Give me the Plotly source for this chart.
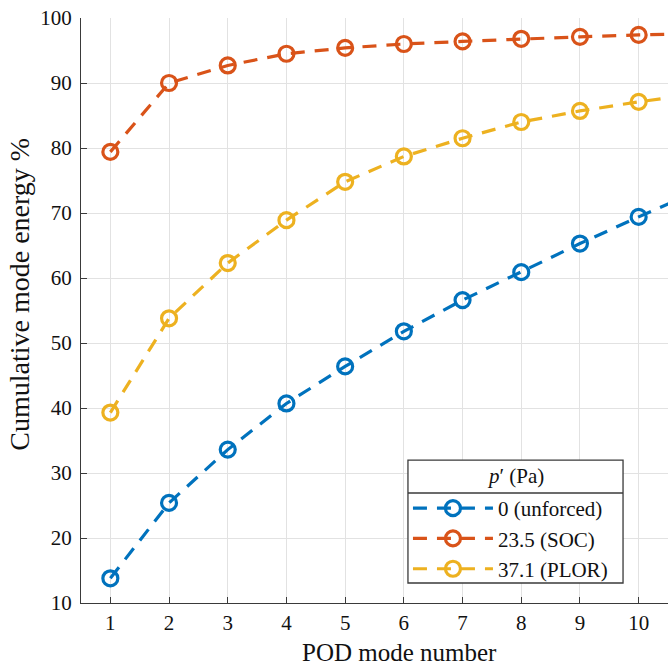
import plotly.graph_objects as go

modes = [1, 2, 3, 4, 5, 6, 7, 8, 9, 10, 11]
unforced = [13.8, 25.4, 33.6, 40.7, 46.4, 51.8, 56.6, 60.9, 65.3, 69.4, 73.4]
soc = [79.4, 90.0, 92.7, 94.5, 95.4, 96.0, 96.4, 96.8, 97.1, 97.4, 97.6]
plor = [39.3, 53.8, 62.3, 68.9, 74.8, 78.7, 81.5, 84.0, 85.7, 87.1, 88.3]
names = ["0 (unforced)", "23.5 (SOC)", "37.1 (PLOR)"]
colors = ["#0072BD", "#D95319", "#EDB120"]
series = [unforced, soc, plor]

font = "Liberation Serif"
fig = go.Figure()
for name, col, ys in zip(names, colors, series):
    fig.add_trace(go.Scatter(
        x=modes, y=ys, name=name, mode="lines+markers",
        line=dict(color=col, width=3.2, dash="14px,10px"),
        marker=dict(symbol="circle-open", size=15, line=dict(color=col, width=3.2)),
    ))

axis_common = dict(
    showline=True, linecolor="#3a3a3a", linewidth=1.3,
    ticks="inside", ticklen=6, tickcolor="#3a3a3a", tickwidth=1.3,
    showgrid=True, gridcolor="#e2e2e2", gridwidth=1.2,
    zeroline=False, mirror=False,
    tickfont=dict(family=font, size=21, color="#111"),
)
fig.update_xaxes(range=[0.5, 10.5], tickvals=list(range(1, 11)),
                 ticklabelstandoff=1, **axis_common)
fig.update_yaxes(range=[10, 100], tickvals=list(range(10, 101, 10)),
                 ticklabelstandoff=4, **axis_common)

fig.update_layout(
    width=668, height=665,
    margin=dict(l=81, r=0, t=18, b=62),
    plot_bgcolor="white", paper_bgcolor="white",
    font=dict(family=font, color="#111"),
    legend=dict(
        x=0.557, y=0.1966, xanchor="left", yanchor="top",
        bgcolor="rgba(0,0,0,0)", borderwidth=0,
        font=dict(family=font, size=21, color="#111"),
        itemwidth=80, tracegroupgap=0,
    ),
    shapes=[
        dict(type="rect", xref="paper", yref="paper", layer="above",
             x0=0.557, x1=0.9234, y0=0.0342, y1=0.2444,
             fillcolor="white", line=dict(color="#3a3a3a", width=1.3)),
        dict(type="line", xref="paper", yref="paper", layer="above",
             x0=0.557, x1=0.9234, y0=0.188, y1=0.188,
             line=dict(color="#3a3a3a", width=1.3)),
    ],
    annotations=[
        dict(text="<i>p</i>′ (Pa)", xref="paper", yref="paper",
             x=0.7402, y=0.2171, xanchor="center", yanchor="middle",
             showarrow=False, font=dict(family=font, size=21, color="#111")),
        dict(text="POD mode number", xref="paper", yref="paper",
             x=0.5434, y=-0.0838, xanchor="center", yanchor="middle",
             showarrow=False, font=dict(family=font, size=25, color="#111")),
        dict(text="Cumulative mode energy %", xref="paper", yref="paper",
             x=-0.1039, y=0.527, xanchor="center", yanchor="middle", textangle=-90,
             showarrow=False, font=dict(family=font, size=28, color="#111")),
    ],
)
fig.write_html("out.html")
